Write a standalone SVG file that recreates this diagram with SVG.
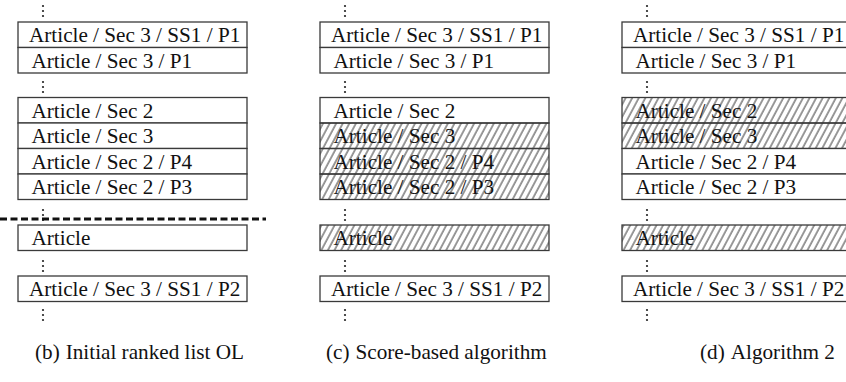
<svg xmlns="http://www.w3.org/2000/svg" width="846" height="382" viewBox="0 0 846 382" font-family="'Liberation Serif', 'DejaVu Serif', serif">
  <defs>
    <pattern id="hatch" patternUnits="userSpaceOnUse" width="5.8" height="10" patternTransform="rotate(28)">
      <line x1="1" y1="-2" x2="1" y2="12" stroke="#1a1a1a" stroke-width="0.9"/>
    </pattern>
    <g id="vdots">
      <circle cx="0" cy="0" r="1.1"/>
      <circle cx="0" cy="5" r="1.1"/>
      <circle cx="0" cy="10" r="1.1"/>
    </g>
  </defs>
  <style>
    rect.cell { fill: #fff; stroke: #3a3a3a; stroke-width: 1.3; }
    rect.hatched { fill: url(#hatch); stroke: #3a3a3a; stroke-width: 1.3; }
    text { font-family: 'Liberation Serif', 'DejaVu Serif', serif; font-size: 21.2px; fill: #111; }
    .dots { fill: #222; }
    .sep { stroke: #111; stroke-width: 3; stroke-dasharray: 7 3.5; fill: none; }
  </style>

  <!-- Column (b): initial ranked list -->
  <g id="col-b">
    <g class="dots">
      <use href="#vdots" x="43" y="6"/>
      <use href="#vdots" x="43" y="82"/>
      <use href="#vdots" x="43" y="210"/>
      <use href="#vdots" x="43" y="261"/>
      <use href="#vdots" x="43" y="310"/>
    </g>
    <g id="b1"><rect class="cell" x="18" y="22" width="229" height="25.5"/><text x="29" y="42">Article / Sec 3 / SS1 / P1</text></g>
    <g id="b2"><rect class="cell" x="18" y="47.5" width="229" height="25.5"/><text x="31.5" y="67.5">Article / Sec 3 / P1</text></g>
    <g id="b3"><rect class="cell" x="18" y="97.5" width="229" height="25.5"/><text x="31.5" y="117.5">Article / Sec 2</text></g>
    <g id="b4"><rect class="cell" x="18" y="123" width="229" height="25.5"/><text x="31.5" y="143">Article / Sec 3</text></g>
    <g id="b5"><rect class="cell" x="18" y="148.5" width="229" height="25.5"/><text x="31.5" y="168.5">Article / Sec 2 / P4</text></g>
    <g id="b6"><rect class="cell" x="18" y="174" width="229" height="25.5"/><text x="31.5" y="194">Article / Sec 2 / P3</text></g>
    <g id="b7"><rect class="cell" x="18" y="225" width="229" height="25.5"/><text x="31.5" y="245">Article</text></g>
    <g id="b8"><rect class="cell" x="18" y="276" width="229" height="25.5"/><text x="29" y="296">Article / Sec 3 / SS1 / P2</text></g>
  </g>

  <!-- cut-off line of the initial list -->
  <g id="cutoff">
    <line class="sep" x1="0" y1="219" x2="266" y2="219"/>
  </g>

  <!-- Column (c): score-based algorithm -->
  <g id="col-c">
    <g class="dots">
      <use href="#vdots" x="345" y="6"/>
      <use href="#vdots" x="345" y="82"/>
      <use href="#vdots" x="345" y="210"/>
      <use href="#vdots" x="345" y="261"/>
      <use href="#vdots" x="345" y="310"/>
    </g>
    <g id="c1"><rect class="cell" x="320" y="22" width="229" height="25.5"/><text x="331" y="42">Article / Sec 3 / SS1 / P1</text></g>
    <g id="c2"><rect class="cell" x="320" y="47.5" width="229" height="25.5"/><text x="333.5" y="67.5">Article / Sec 3 / P1</text></g>
    <g id="c3"><rect class="cell" x="320" y="97.5" width="229" height="25.5"/><text x="333.5" y="117.5">Article / Sec 2</text></g>
    <g id="c4"><rect class="hatched" x="320" y="123" width="229" height="25.5"/><text x="333.5" y="143">Article / Sec 3</text></g>
    <g id="c5"><rect class="hatched" x="320" y="148.5" width="229" height="25.5"/><text x="333.5" y="168.5">Article / Sec 2 / P4</text></g>
    <g id="c6"><rect class="hatched" x="320" y="174" width="229" height="25.5"/><text x="333.5" y="194">Article / Sec 2 / P3</text></g>
    <g id="c7"><rect class="hatched" x="320" y="225" width="229" height="25.5"/><text x="333.5" y="245">Article</text></g>
    <g id="c8"><rect class="cell" x="320" y="276" width="229" height="25.5"/><text x="331" y="296">Article / Sec 3 / SS1 / P2</text></g>
  </g>

  <!-- Column (d): Algorithm 2 -->
  <g id="col-d">
    <g class="dots">
      <use href="#vdots" x="647" y="6"/>
      <use href="#vdots" x="647" y="82"/>
      <use href="#vdots" x="647" y="210"/>
      <use href="#vdots" x="647" y="261"/>
      <use href="#vdots" x="647" y="310"/>
    </g>
    <g id="d1"><rect class="cell" x="622" y="22" width="229" height="25.5"/><text x="633" y="42">Article / Sec 3 / SS1 / P1</text></g>
    <g id="d2"><rect class="cell" x="622" y="47.5" width="229" height="25.5"/><text x="635.5" y="67.5">Article / Sec 3 / P1</text></g>
    <g id="d3"><rect class="hatched" x="622" y="97.5" width="229" height="25.5"/><text x="635.5" y="117.5">Article / Sec 2</text></g>
    <g id="d4"><rect class="hatched" x="622" y="123" width="229" height="25.5"/><text x="635.5" y="143">Article / Sec 3</text></g>
    <g id="d5"><rect class="cell" x="622" y="148.5" width="229" height="25.5"/><text x="635.5" y="168.5">Article / Sec 2 / P4</text></g>
    <g id="d6"><rect class="cell" x="622" y="174" width="229" height="25.5"/><text x="635.5" y="194">Article / Sec 2 / P3</text></g>
    <g id="d7"><rect class="hatched" x="622" y="225" width="229" height="25.5"/><text x="635.5" y="245">Article</text></g>
    <g id="d8"><rect class="cell" x="622" y="276" width="229" height="25.5"/><text x="633" y="296">Article / Sec 3 / SS1 / P2</text></g>
  </g>

  <!-- Captions -->
  <g id="captions">
    <text x="35" y="359">(b)<tspan dx="6">Initial ranked list OL</tspan></text>
    <text x="326" y="359">(c)<tspan dx="6">Score-based algorithm</tspan></text>
    <text x="700" y="359">(d)<tspan dx="6">Algorithm 2</tspan></text>
  </g>
</svg>
